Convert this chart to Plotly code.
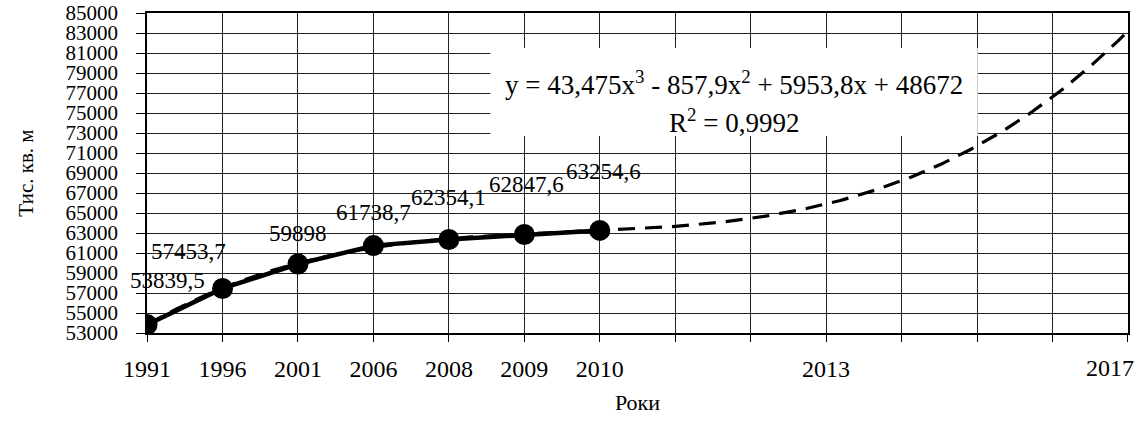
import numpy as np
import plotly.graph_objects as go

# Observed floor area by year (thousand sq. m)
years_obs = ["1991", "1996", "2001", "2006", "2008", "2009", "2010"]
area_obs = [53839.5, 57453.7, 59898, 61738.7, 62354.1, 62847.6, 63254.6]

# Category axis labels (period index 1..14)
tick_labels = ["1991", "1996", "2001", "2006", "2008", "2009", "2010",
               "", "", "2013", "", "", "", "2017"]

# Cubic trend coefficients (x^3, x^2, x, const) and fit quality
trend_coef = [43.475, -857.9, 5953.8, 48672]
r_squared = 0.9992

SERIF = "Liberation Serif, Times New Roman, serif"

x_obs = np.arange(1, len(area_obs) + 1)
x_all = np.arange(1, len(tick_labels) + 1)
x_trend = np.linspace(x_all[0], x_all[-1], 300)
y_trend = np.polyval(trend_coef, x_trend)
x_range = [x_all[0] - 0.001, x_all[-1] + 0.001]

# the edge label is drawn by an overlay axis so it can be nudged inward
main_text = list(tick_labels[:-1]) + [""]
edge_val = [int(x_all[-1])]
edge_text = [tick_labels[-1]]

fig = go.Figure()

fig.add_trace(go.Scatter(
    x=x_trend, y=y_trend, mode="lines",
    line=dict(color="black", width=3.2, dash="17px,10px"),
    hoverinfo="skip", showlegend=False,
))
fig.add_trace(go.Scatter(
    x=x_obs, y=area_obs, mode="lines+markers",
    line=dict(color="black", width=4.5),
    marker=dict(color="black", size=21),
    showlegend=False,
))
fig.add_trace(go.Scatter(x=[], y=[], xaxis="x2", yaxis="y",
                         showlegend=False, hoverinfo="skip"))

# Value labels above the points (pixel offsets from each point)
label_shift = [(20, 44), (-34, 37), (0, 31), (0, 33), (0, 42), (2, 50), (4, 59)]
for xi, v, (dx, dy) in zip(x_obs, area_obs, label_shift):
    fig.add_annotation(
        x=xi, y=v, xref="x", yref="y", showarrow=False,
        text=f"{v:g}".replace(".", ","),
        xshift=dx, yshift=dy, xanchor="center", yanchor="middle",
        font=dict(family=SERIF, size=23, color="black"),
    )

# White panel behind the trend equation
fig.add_shape(
    type="rect", xref="x", yref="y",
    x0=5.55, x1=12.01, y0=72700, y1=81500,
    fillcolor="white", line=dict(width=0), layer="above",
)

a, b, c, d = trend_coef
eq_text = (f"y = {a:g}x<sup>3</sup> - {abs(b):g}x<sup>2</sup> + {c:g}x + {d:g}"
           .replace(".", ","))
r2_text = f"R<sup>2</sup> = {r_squared:g}".replace(".", ",")
fig.add_annotation(
    x=8.78, y=78000, xref="x", yref="y", showarrow=False,
    text=eq_text, xanchor="center", yanchor="middle",
    font=dict(family=SERIF, size=27, color="black"),
)
fig.add_annotation(
    x=8.78, y=74200, xref="x", yref="y", showarrow=False,
    text=r2_text, xanchor="center", yanchor="middle",
    font=dict(family=SERIF, size=27, color="black"),
)

fig.update_layout(
    width=1144, height=427,
    margin=dict(l=147, r=16, t=13, b=94),
    paper_bgcolor="white", plot_bgcolor="white",
    font=dict(family=SERIF, color="black"),
    xaxis=dict(
        range=x_range,
        tickmode="array", tickvals=list(x_all), ticktext=main_text,
        ticklabeloverflow="allow", automargin=False,
        showgrid=True, gridcolor="#222", gridwidth=1,
        showline=True, linecolor="black", linewidth=1.5, mirror=True,
        ticks="outside", ticklen=7, tickcolor="black",
        tickfont=dict(family=SERIF, size=24, color="black"),
        ticklabelstandoff=6,
        zeroline=False,
        title=dict(text="Роки", font=dict(family=SERIF, size=22, color="black"),
                   standoff=14),
    ),
    xaxis2=dict(
        overlaying="x", anchor="y", side="bottom", range=x_range,
        tickmode="array", tickvals=edge_val, ticktext=edge_text,
        ticklabelshift=-18, ticklabeloverflow="allow", automargin=False,
        showgrid=False, showline=False, zeroline=False,
        ticks="outside", ticklen=7, tickcolor="black",
        tickfont=dict(family=SERIF, size=24, color="black"),
        ticklabelstandoff=6,
    ),
    yaxis=dict(
        range=[53000, 85000], dtick=2000, tick0=53000, tickformat="d",
        automargin=False,
        showgrid=True, gridcolor="#222", gridwidth=1,
        showline=True, linecolor="black", linewidth=1.5, mirror=True,
        ticks="outside", ticklen=9, tickcolor="black",
        tickfont=dict(family=SERIF, size=21, color="black"),
        ticklabelstandoff=14,
        zeroline=False,
        title=dict(text="Тис. кв. м", font=dict(family=SERIF, size=21, color="black"),
                   standoff=26),
    ),
)

fig.write_html("out.html")
